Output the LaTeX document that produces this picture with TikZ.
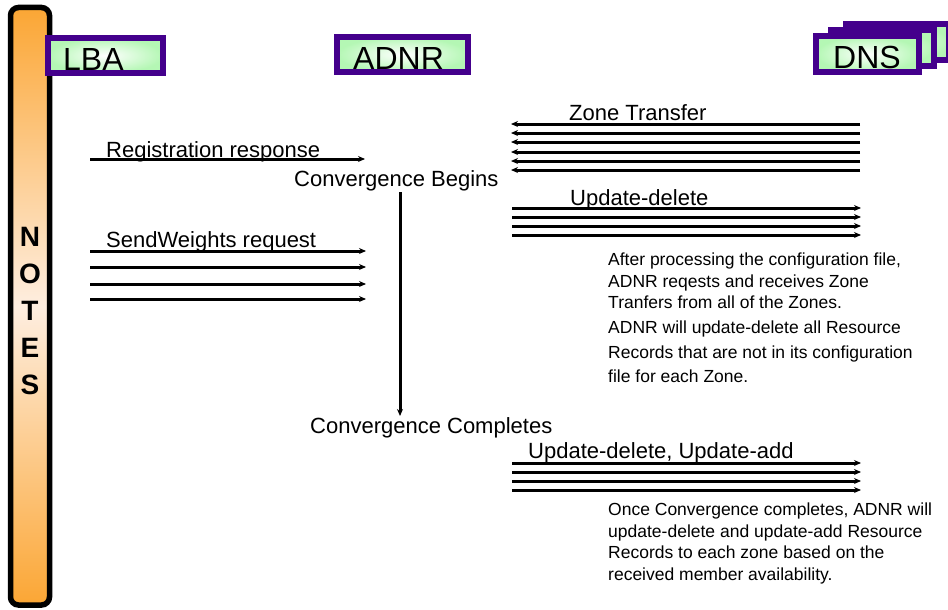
\documentclass[tikz,border=0pt]{standalone}
\usepackage{fontspec}
\setmainfont{Liberation Sans}
\usetikzlibrary{arrows.meta}
\definecolor{hdrpurple}{RGB}{68,0,140}
\definecolor{hdrgreen}{RGB}{180,247,180}
\definecolor{barorange}{RGB}{251,166,52}
\definecolor{barlight}{RGB}{254,238,224}
\begin{document}
\begin{tikzpicture}[x=1pt,y=-1pt,
  msg/.style={line width=3pt,-{Stealth[length=7pt,width=6pt]}},
  lbl/.style={font=\fontsize{22}{26}\selectfont,anchor=base west,inner sep=0pt},
  hdrbox/.style={draw=hdrpurple,line width=6pt,inner color=white,outer color=hdrgreen,
    rectangle,inner sep=0pt},
  hdrtext/.style={font=\fontsize{32}{36}\selectfont,anchor=base west,inner sep=0pt},
  notetext/.style={font=\fontsize{17.5}{21}\selectfont,anchor=base west,inner sep=0pt},
  letter/.style={font=\bfseries\fontsize{28}{32}\selectfont,anchor=base,inner sep=0pt}]
\useasboundingbox (0,0) rectangle (948,610);
\begin{scope}
\clip (0,0) rectangle (948,610);
% notes bar
\draw[line width=5.5pt,rounded corners=8pt,top color=barorange,bottom color=barorange,
  middle color=barlight] (10.5,7.5) rectangle (49.5,605);
\foreach \l [count=\i] in {N,O,T,E,S}
  \node[letter] (notes\i) at (30,246+37*\i-37) {\l};
% header boxes
\node[hdrbox,minimum width=115pt,minimum height=35pt] (lba) at (105.5,55.5) {};
\node[hdrtext] (lbaT) at (63,70.5) {LBA};
\node[hdrbox,minimum width=131pt,minimum height=35pt] (adnr) at (402.5,54.5) {};
\node[hdrtext] (adnrT) at (353,69.5) {ADNR};
\node[hdrbox,minimum width=103pt,minimum height=36pt] (dns3) at (897.5,42) {};
\node[hdrbox,minimum width=103pt,minimum height=36pt] (dns2) at (882.5,48) {};
\node[hdrbox,minimum width=103pt,minimum height=36pt] (dns) at (867.5,54) {};
\node[hdrtext] (dnsT) at (833,69) {DNS};
\end{scope}
% Registration response
\coordinate (rrA) at (90,159);
\coordinate (rrB) at (365,159);
\draw[msg] (rrA) -- (rrB);
\node[lbl] (rrL) at (106,157) {Registration response};
% SendWeights
\foreach \yy [count=\i] in {251,267,284,299}{
  \coordinate (swA\i) at (90,\yy);
  \coordinate (swB\i) at (366,\yy);
  \draw[msg] (swA\i) -- (swB\i);
}
\node[lbl] (swL) at (106,247) {SendWeights request};
% Zone transfer
\foreach \yy [count=\i] in {124,133,142,152,161,170}{
  \coordinate (ztA\i) at (860,\yy);
  \coordinate (ztB\i) at (511,\yy);
  \draw[msg] (ztA\i) -- (ztB\i);
}
\node[lbl] (ztL) at (569,121) {Zone Transfer};
% Update-delete
\foreach \yy [count=\i] in {208,217,226,235}{
  \coordinate (udA\i) at (512,\yy);
  \coordinate (udB\i) at (861,\yy);
  \draw[msg] (udA\i) -- (udB\i);
}
\node[lbl] (udL) at (570,205) {Update-delete};
% Convergence
\node[lbl] (cb) at (294,186) {Convergence Begins};
\coordinate (cvA) at (400,192);
\coordinate (cvB) at (400,416);
\draw[msg] (cvA) -- (cvB);
\node[lbl] (cc) at (310,433) {Convergence Completes};
% Update-delete, Update-add
\foreach \yy [count=\i] in {463,472,481,490}{
  \coordinate (uaA\i) at (512,\yy);
  \coordinate (uaB\i) at (861,\yy);
  \draw[msg] (uaA\i) -- (uaB\i);
}
\node[lbl] (uaL) at (528,458) {Update-delete, Update-add};
% notes text
\node[notetext] (n1a) at (608,265) {After processing the configuration file,};
\node[notetext] (n1b) at (608,287) {ADNR reqests and receives Zone};
\node[notetext] (n1c) at (608,308) {Tranfers from all of the Zones.};
\node[notetext] (n1d) at (608,333) {ADNR will update-delete all Resource};
\node[notetext] (n1e) at (608,358) {Records that are not in its configuration};
\node[notetext] (n1f) at (608,382) {file for each Zone.};
\node[notetext] (n2a) at (608,515) {Once Convergence completes, ADNR will};
\node[notetext] (n2b) at (608,537) {update-delete and update-add Resource};
\node[notetext] (n2c) at (608,558) {Records to each zone based on the};
\node[notetext] (n2d) at (608,580) {received member availability.};
\end{tikzpicture}
\end{document}
